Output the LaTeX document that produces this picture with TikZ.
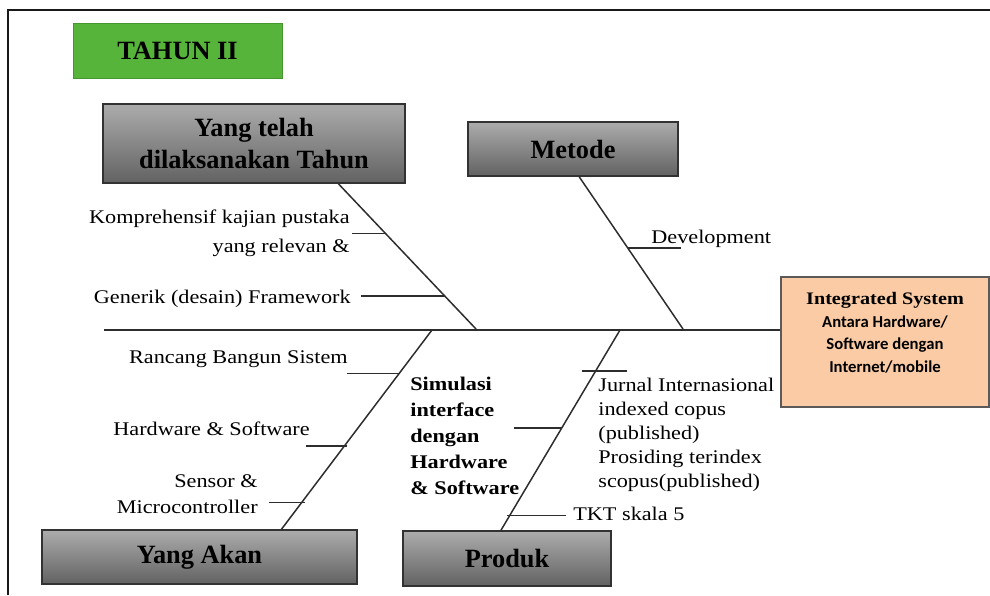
\documentclass[tikz,border=0pt]{standalone}
\usepackage{fontspec}
\setmainfont{Liberation Serif}[FakeStretch=1.15]
\newfontfamily\headfont{Liberation Serif}
\newfontfamily\calibri{Carlito}
\usepackage{tikz}
\usetikzlibrary{positioning,calc}

\definecolor{tahungreen}{RGB}{86,180,58}
\definecolor{tahunedge}{RGB}{70,150,48}
\definecolor{boxtop}{RGB}{172,172,172}
\definecolor{boxbot}{RGB}{98,98,98}
\definecolor{boxedge}{RGB}{50,50,50}
\definecolor{peach}{RGB}{251,203,165}
\definecolor{peachedge}{RGB}{90,90,90}
\definecolor{bonegray}{RGB}{45,45,45}

\begin{document}
\begin{tikzpicture}[x=0.02cm,y=-0.02cm,
  cat/.style={rectangle,draw=boxedge,line width=0.8pt,top color=boxtop,bottom color=boxbot,inner sep=0pt,align=center,font=\headfont\bfseries\fontsize{15}{18.5}\selectfont},
  bone/.style={draw=bonegray,line width=0.85pt},
  rib/.style={draw=bonegray,line width=0.85pt},
  cause/.style={inner sep=0pt,font=\fontsize{11}{16.4}\selectfont},
  pageframe/.style={draw=black!90,line width=1.4pt},
]
\useasboundingbox (0,0) rectangle (990,595);

% Frame
\draw[pageframe] (8,595) -- (8,10) -- (990,10);

% Title
\node[rectangle,draw=tahunedge,fill=tahungreen,minimum width=4.18cm,minimum height=1.1cm,font=\headfont\bfseries\fontsize{15}{18}\selectfont] (tahun) at (177.5,50.5) {TAHUN II};

% Category boxes
\node[cat,minimum width=6.04cm,minimum height=1.58cm] (yt) at (254,143.5) {Yang telah\\dilaksanakan Tahun};
\node[cat,minimum width=4.2cm,minimum height=1.08cm] (metode) at (573,149) {Metode};
\node[cat,minimum width=6.3cm,minimum height=1.08cm] (akan) at (199.5,557) {Yang Akan};
\node[cat,minimum width=4.16cm,minimum height=1.1cm] (produk) at (507,558.5) {Produk};

% Goal
\node[rectangle,draw=peachedge,line width=0.8pt,fill=peach,minimum width=4.16cm,minimum height=2.6cm] (goal) at (885,342) {};
\node[inner sep=0pt,align=center,font=\fontsize{10}{12.8}\selectfont,below=0.32cm of goal.north] (goaltxt) {\textbf{Integrated System}\\{\calibri\bfseries\fontsize{9.5}{12.8}\selectfont Antara Hardware/}\\{\calibri\bfseries\fontsize{9.5}{12.8}\selectfont Software dengan}\\{\calibri\bfseries\fontsize{9.5}{12.8}\selectfont Internet/mobile}};

% Spine
\coordinate (s0) at (104,330);
\draw[bone] (s0) -- (s0 -| goal.west);

% Bones
\coordinate (b1s) at ($(yt.south west)!0.778!(yt.south east)$);
\coordinate (b1e) at (476,329);
\coordinate (b2s) at ($(metode.south west)!0.529!(metode.south east)$);
\coordinate (b2e) at (683,329);
\coordinate (b3s) at (432,330);
\coordinate (b3e) at ($(akan.north west)!0.759!(akan.north east)$);
\coordinate (b4s) at (620,330);
\coordinate (b4e) at ($(produk.north west)!0.471!(produk.north east)$);
\draw[bone] (b1s) -- (b1e);
\draw[bone] (b2s) -- (b2e);
\draw[bone] (b3s) -- (b3e);
\draw[bone] (b4s) -- (b4e);

% Ribs
\draw[rib] ($(b1s)!0.342!(b1e)$) -- ++(-33,0);
\draw[rib] ($(b1s)!0.774!(b1e)$) -- ++(-84,0);
\draw[rib] ($(b2s)!0.467!(b2e)$) -- ++(53,0);
\draw[rib] ($(b3s)!0.219!(b3e)$) -- ++(-52,0);
\draw[rib] ($(b3s)!0.582!(b3e)$) ++(3,0) -- ++(-41,0);
\draw[rib] ($(b3s)!0.866!(b3e)$) ++(3,0) -- ++(-36,0);
\draw[rib] ($(b4s)!0.204!(b4e)$) ++(-14,0) -- ++(45,0);
\draw[rib] ($(b4s)!0.488!(b4e)$) -- ++(-48,0);
\draw[rib] ($(b4s)!0.925!(b4e)$) ++(-3,0) -- ++(59,0);

% Causes (base = last line)
\node[cause,align=right,anchor=base east] (kompre) at (350,252) {Komprehensif kajian pustaka\\yang relevan \&};
\node[cause,anchor=base east] (generik) at (351,303) {Generik (desain) Framework};
\node[cause,anchor=base west] (devel) at (651,243) {Development};
\node[cause,anchor=base east] (rancang) at (348,363) {Rancang Bangun Sistem};
\node[cause,anchor=base east] (hws) at (310,435) {Hardware \& Software};
\node[cause,align=right,anchor=base east,font=\fontsize{11}{14.7}\selectfont] (sensor) at (258,513) {Sensor \&\\Microcontroller};
\node[cause,align=left,anchor=base west,font=\bfseries\fontsize{11}{14.7}\selectfont] (simul) at (410,494) {Simulasi\\interface\\dengan\\Hardware\\\& Software};
\node[cause,align=left,anchor=base west,font=\fontsize{11}{13.6}\selectfont] (jurnal) at (598,487) {Jurnal Internasional\\indexed copus\\(published)\\Prosiding terindex\\scopus(published)};
\node[cause,anchor=base west] (tkt) at (573,520) {TKT skala 5};

\end{tikzpicture}
\end{document}
